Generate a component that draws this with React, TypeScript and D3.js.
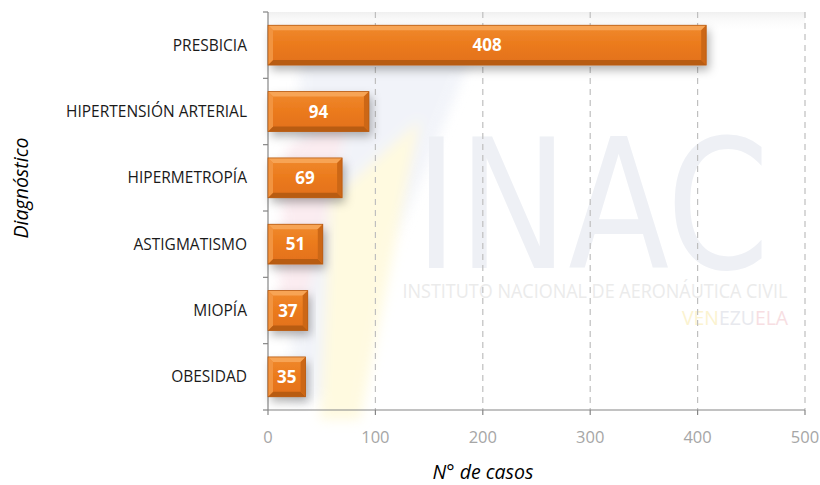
import React from "react";
import * as d3 from "d3";

const categories = ["PRESBICIA", "HIPERTENSIÓN ARTERIAL", "HIPERMETROPÍA", "ASTIGMATISMO", "MIOPÍA", "OBESIDAD"];
const values = [408, 94, 69, 51, 37, 35];
const xTicks = [0, 100, 200, 300, 400, 500];
const xTitle = "N° de casos";
const yTitle = "Diagnóstico";

const W = 820, H = 485;
const left = 268, right = 805, top = 12, bottom = 410;

export default function App() {
  const x = d3.scaleLinear().domain([0, 500]).range([left, right]);
  const y = d3.scaleBand<string>().domain(categories).range([top, bottom]).paddingInner(0.4).paddingOuter(0.2);
  const font = "'Open Sans', 'DejaVu Sans', sans-serif";
  const bev = 5;
  const bandTicks = categories.map((c) => y(c)! - (y.step() * y.paddingInner()) / 2).concat([bottom]);
  return (
    <svg width={W} height={H} style={{ position: "absolute", left: 0, top: 0, background: "#fff" }}>
      <defs>
        <linearGradient id="barG" x1="0" y1="0" x2="0" y2="1">
          <stop offset="0" stopColor="#F08A2E" />
          <stop offset="0.5" stopColor="#EB7A1C" />
          <stop offset="1" stopColor="#E2701A" />
        </linearGradient>
        <linearGradient id="topG" x1="0" y1="0" x2="0" y2="1">
          <stop offset="0" stopColor="#F0F0F0" />
          <stop offset="1" stopColor="#FFFFFF" stopOpacity="0" />
        </linearGradient>
        <filter id="sh" x="-20%" y="-40%" width="140%" height="190%">
          <feDropShadow dx="3" dy="5" stdDeviation="5" floodColor="#000" floodOpacity="0.3" />
        </filter>
        <filter id="blur"><feGaussianBlur stdDeviation="6" /></filter>
      </defs>
      {/* plot top shading */}
      <rect x={left} y={top} width={right - left} height={20} fill="url(#topG)" />
      {/* watermark */}
      <g opacity={0.55} filter="url(#blur)">
        <polygon points="300,60 470,60 330,400 290,400" fill="#E7EBF5" />
        <polygon points="330,200 420,120 360,420 320,420" fill="#FFF6C8" />
        <polygon points="285,150 350,110 300,330 278,320" fill="#F8DDE4" />
      </g>
      <text x={592} y={268} textAnchor="middle" fontFamily="'DejaVu Sans', sans-serif" fontSize={180} fill="#EEF0F5" textLength={355} lengthAdjust="spacingAndGlyphs">INAC</text>
      <text x={595} y={298} textAnchor="middle" fontFamily={font} fontSize={20} fill="#EBEBEB" textLength={385} lengthAdjust="spacingAndGlyphs">INSTITUTO NACIONAL DE AERONÁUTICA CIVIL</text>
      <text x={788} y={325} textAnchor="end" fontFamily={font} fontSize={20} textLength={106} lengthAdjust="spacingAndGlyphs">
        <tspan fill="#FBF3D0">VEN</tspan><tspan fill="#E8E9EE">EZU</tspan><tspan fill="#F7DEE2">ELA</tspan>
      </text>
      {/* grid */}
      {xTicks.slice(1).map((t) => (
        <line key={t} x1={x(t)} x2={x(t)} y1={top} y2={bottom} stroke="#BFBFBF" strokeWidth={1.2} strokeDasharray="6,5" />
      ))}
      {/* axes */}
      <line x1={left} x2={left} y1={top} y2={bottom} stroke="#868686" strokeWidth={1.2} />
      {bandTicks.map((t, i) => (
        <line key={i} x1={left - 5} x2={left} y1={t} y2={t} stroke="#868686" strokeWidth={1.2} />
      ))}
      <line x1={left} x2={right} y1={bottom} y2={bottom} stroke="#868686" strokeWidth={1.2} />
      {xTicks.map((t) => (
        <g key={t}>
          <line x1={x(t)} x2={x(t)} y1={bottom} y2={bottom + 5} stroke="#868686" strokeWidth={1.2} />
          <text x={x(t)} y={443} textAnchor="middle" fontFamily={font} fontSize={16.5} fill="#A6A6A6">{t}</text>
        </g>
      ))}
      {/* bars */}
      {categories.map((c, i) => {
        const y0 = y(c)!;
        const h = y.bandwidth();
        const x0 = x(0);
        const x1 = x(values[i]);
        const b = bev;
        return (
          <g key={c}>
            <rect x={x0} y={y0} width={x1 - x0} height={h} fill="url(#barG)" filter="url(#sh)" />
            <polygon points={`${x0},${y0} ${x1},${y0} ${x1 - b},${y0 + b} ${x0 + b},${y0 + b}`} fill="#F7A455" />
            <polygon points={`${x0},${y0 + h} ${x1},${y0 + h} ${x1 - b},${y0 + h - b} ${x0 + b},${y0 + h - b}`} fill="#B85C12" />
            <polygon points={`${x0},${y0} ${x0 + b},${y0 + b} ${x0 + b},${y0 + h - b} ${x0},${y0 + h}`} fill="#F29440" />
            <polygon points={`${x1},${y0} ${x1 - b},${y0 + b} ${x1 - b},${y0 + h - b} ${x1},${y0 + h}`} fill="#CC6716" />
            <rect x={x0} y={y0} width={x1 - x0} height={h} fill="none" stroke="#B65A12" strokeWidth={0.8} />
            <text x={(x0 + x1) / 2} y={y0 + h / 2 + 6} textAnchor="middle" fontFamily={font} fontWeight="bold" fontSize={17} fill="#fff">{values[i]}</text>
            <text x={left - 21} y={y0 + h / 2 + 5.5} textAnchor="end" fontFamily={font} fontSize={15.5} fill="#1a1a1a">{c}</text>
          </g>
        );
      })}
      <text x={483} y={479} textAnchor="middle" fontFamily={font} fontStyle="italic" fontSize={19.5} fill="#000">{xTitle}</text>
      <text transform={`translate(28,${188}) rotate(-90)`} textAnchor="middle" fontFamily={font} fontStyle="italic" fontSize={19.5} fill="#000">{yTitle}</text>
    </svg>
  );
}
